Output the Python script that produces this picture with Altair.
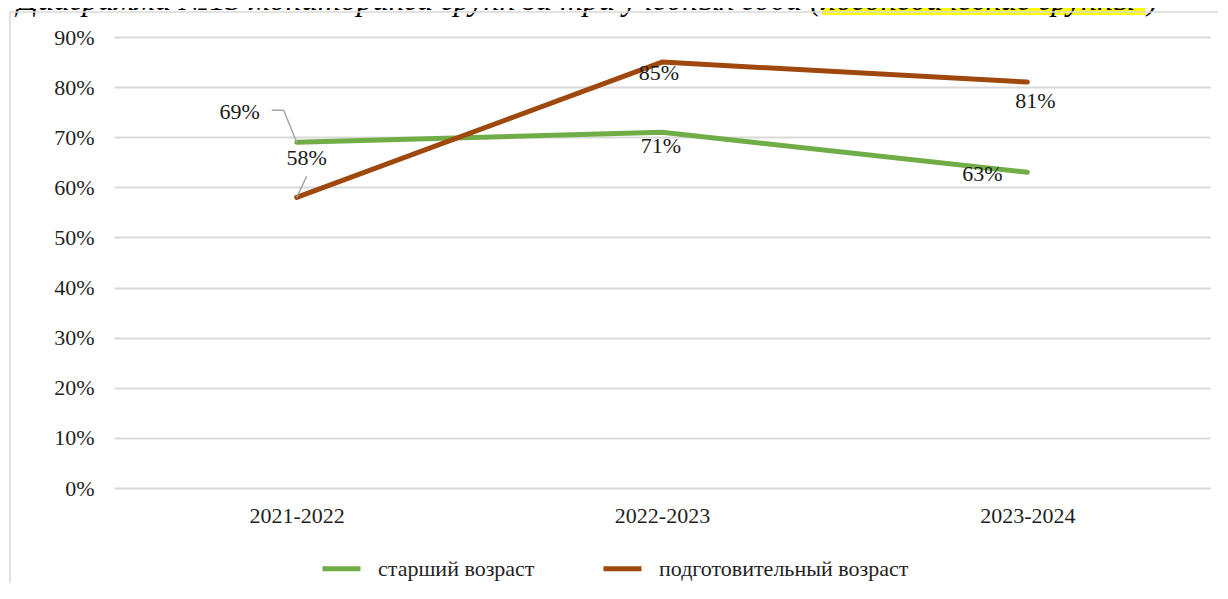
import altair as alt
import pandas as pd

# ---- data ----
years = ["2021-2022", "2022-2023", "2023-2024"]
senior = [69, 71, 63]
prep = [58, 85, 81]
series_names = ["старший возраст", "подготовительный возраст"]
colors = ["#70AD47", "#9E480E"]
y_ticks = [0, 10, 20, 30, 40, 50, 60, 70, 80, 90]
title_main = "Диаграмма №13 мониторинга групп за три учебных года  ("
title_high = "логопедические группы"
title_end = ")"

rows = []
for name, vals in zip(series_names, [senior, prep]):
    for yr, v in zip(years, vals):
        rows.append({"series": name, "year": yr, "value": v})
df = pd.DataFrame(rows)

FONT = "Liberation Serif"
FS = 22
W, H = 1096, 451

x_enc = alt.X("year:N", sort=years,
              scale=alt.Scale(type="point", padding=0.5),
              axis=alt.Axis(title=None, labelAngle=0, ticks=False, domain=False,
                            grid=False, labelFont=FONT, labelFontSize=FS,
                            labelColor="#1f1f1f", labelPadding=17))
y_enc = alt.Y("value:Q", scale=alt.Scale(domain=[0, 90], nice=False),
              axis=alt.Axis(title=None, values=y_ticks, labelExpr="datum.value + '%'",
                            ticks=False, domain=False, gridColor="#D9D9D9", gridWidth=1.8,
                            labelFont=FONT, labelFontSize=FS, labelColor="#1f1f1f",
                            labelPadding=20))

base = alt.Chart(df)

lines = base.mark_line(strokeWidth=5, strokeCap="round", strokeJoin="round").encode(
    x=x_enc, y=y_enc,
    color=alt.Color("series:N",
                    scale=alt.Scale(domain=series_names, range=colors),
                    legend=alt.Legend(title=None, orient="none", legendX=206, legendY=510,
                                      direction="horizontal", symbolType="stroke",
                                      symbolSize=1444, symbolStrokeWidth=5,
                                      labelFont=FONT, labelFontSize=FS, labelColor="#1f1f1f",
                                      labelOffset=15, columnPadding=58, labelLimit=600)),
    order=alt.Order("series:N", sort="descending"),
)


def sel(series, year):
    return base.transform_filter(
        (alt.datum.series == series) & (alt.datum.year == year)
    )


def label(series, year, dx, dy):
    return sel(series, year).transform_calculate(
        lab="datum.value + '%'"
    ).mark_text(dx=dx, dy=dy, font=FONT, fontSize=FS, color="#1a1a1a",
                baseline="middle", align="center").encode(
        x=alt.X("year:N", sort=years), y="value:Q", text="lab:N")


labels = [
    label(series_names[0], years[0], -57, -30),
    label(series_names[0], years[1], -1, 14),
    label(series_names[0], years[2], -45, 2),
    label(series_names[1], years[0], 10, -39),
    label(series_names[1], years[1], -3, 11),
    label(series_names[1], years[2], 8, 19),
]

leader_style = dict(color="#A6A6A6", strokeWidth=1.5)
leaders = [
    sel(series_names[0], years[0]).mark_rule(x2Offset=-13, y2Offset=-32, **leader_style).encode(
        x=alt.X("year:N", sort=years), y="value:Q", x2="year:N", y2="value:Q"),
    sel(series_names[0], years[0]).mark_rule(xOffset=-13, yOffset=-32, x2Offset=-25, y2Offset=-32,
                                             **leader_style).encode(
        x=alt.X("year:N", sort=years), y="value:Q", x2="year:N", y2="value:Q"),
    sel(series_names[1], years[0]).mark_rule(x2Offset=10, y2Offset=-21, **leader_style).encode(
        x=alt.X("year:N", sort=years), y="value:Q", x2="year:N", y2="value:Q"),
]

one = pd.DataFrame({"a": [0]})
frame = alt.Chart(one).mark_rect(filled=False, stroke="#D9D9D9", strokeWidth=1.5).encode(
    x=alt.value(-104), x2=alt.value(1400), y=alt.value(-25), y2=alt.value(800))

highlight = alt.Chart(one).mark_rect(color="#FFFF00").encode(
    x=alt.value(708), x2=alt.value(1031), y=alt.value(-40), y2=alt.value(-22))

title_df = pd.DataFrame({"t": [title_main], "h": [title_high], "e": [title_end]})
title_style = dict(font=FONT, fontSize=32, fontStyle="italic", color="black",
                   baseline="alphabetic")
TY = -27
t1 = alt.Chart(title_df).mark_text(align="right", **title_style).encode(
    x=alt.value(707), y=alt.value(TY), text="t:N")
t2 = alt.Chart(title_df).mark_text(align="left", **title_style).encode(
    x=alt.value(708), y=alt.value(TY), text="h:N")
t3 = alt.Chart(title_df).mark_text(align="left", **title_style).encode(
    x=alt.value(1033), y=alt.value(TY), text="e:N")

chart = alt.layer(highlight, t1, t2, t3, frame, lines, *leaders, *labels).properties(
    width=W, height=H,
    autosize=alt.AutoSizeParams(type="none"),
    padding={"left": 106, "top": 29, "right": 8, "bottom": 95},
    background="white",
).configure_view(stroke=None)

chart.save("out.html", embed_options={"renderer": "svg", "actions": False})
